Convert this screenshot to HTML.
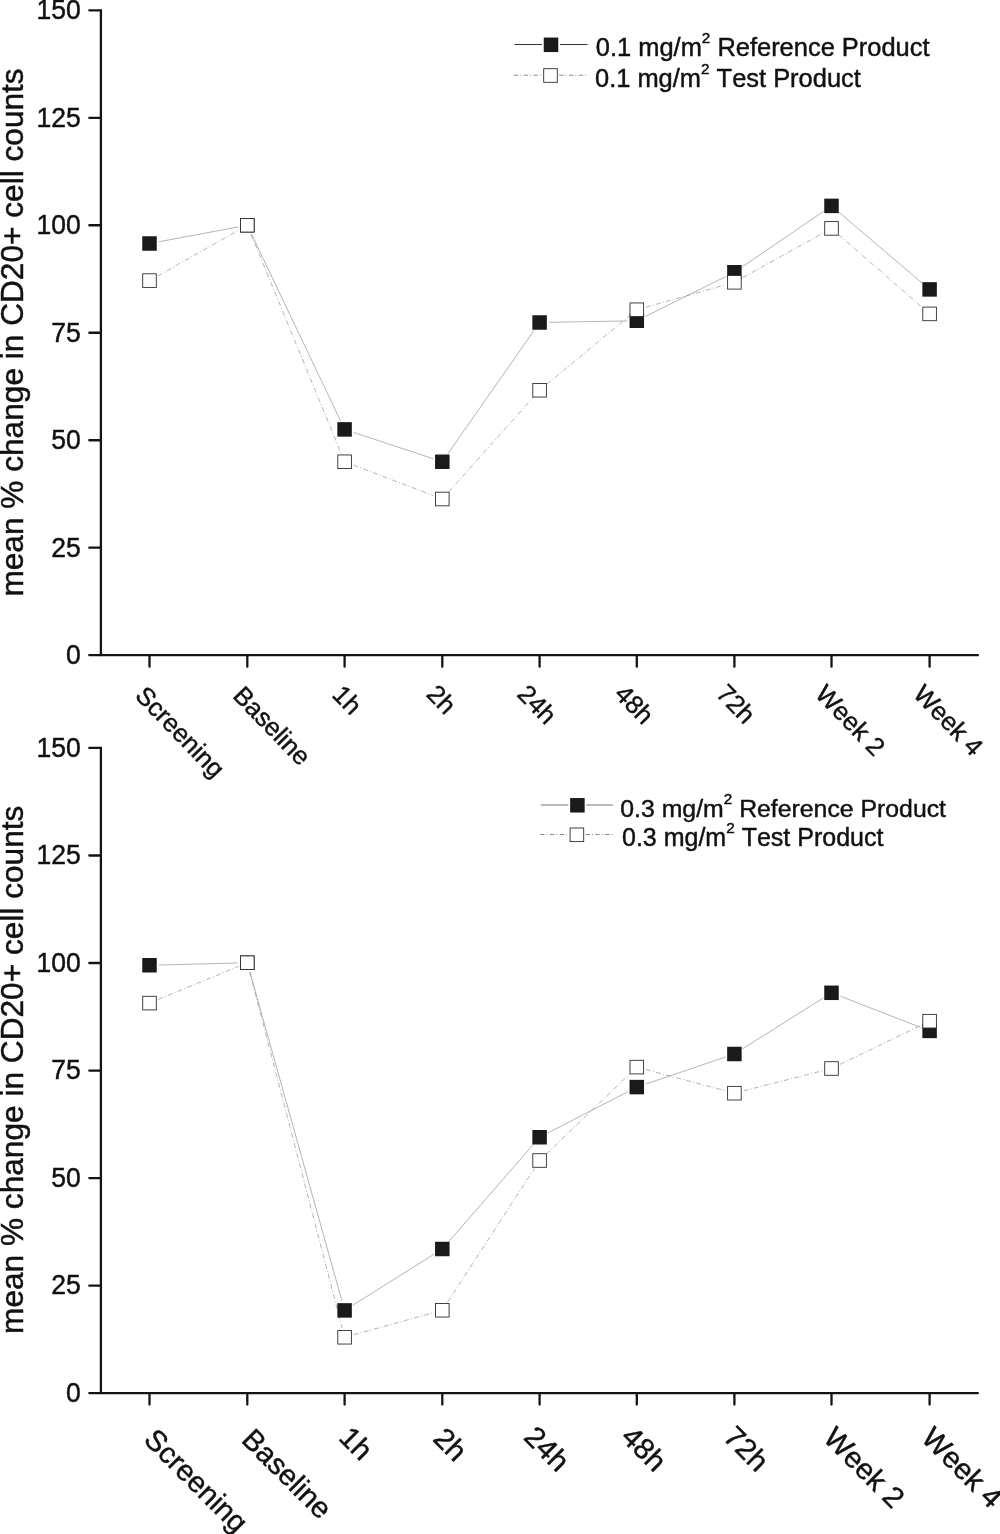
<!DOCTYPE html>
<html><head><meta charset="utf-8"><title>CD20+ cell counts</title>
<style>
html,body{margin:0;padding:0;background:#fff;}
body{width:1000px;height:1534px;overflow:hidden;}
svg{display:block;font-family:"Liberation Sans",Arial,sans-serif;}
text{stroke:#111;stroke-width:0.45px;font-kerning:none;}
</style></head><body>
<svg width="1000" height="1534" viewBox="0 0 1000 1534">
<rect width="1000" height="1534" fill="#fff"/>
<g stroke="#141414" stroke-width="2.3" fill="none" stroke-linecap="round">
<path d="M100.9 10.30 V655.20"/>
<path d="M89.3 655.20 H977.9"/>
<path d="M89.3 10.30 H100.9"/>
<path d="M89.3 117.78 H100.9"/>
<path d="M89.3 225.27 H100.9"/>
<path d="M89.3 332.75 H100.9"/>
<path d="M89.3 440.23 H100.9"/>
<path d="M89.3 547.72 H100.9"/>
<path d="M149.50 655.20 V666.70"/>
<path d="M247.30 655.20 V666.70"/>
<path d="M344.60 655.20 V666.70"/>
<path d="M442.30 655.20 V666.70"/>
<path d="M539.60 655.20 V666.70"/>
<path d="M636.80 655.20 V666.70"/>
<path d="M734.40 655.20 V666.70"/>
<path d="M831.50 655.20 V666.70"/>
<path d="M929.60 655.20 V666.70"/>
</g>
<g font-size="26.5" text-anchor="end" fill="#111">
<text transform="translate(80.8 19.20) scale(1 1.05)">150</text>
<text transform="translate(80.8 126.68) scale(1 1.05)">125</text>
<text transform="translate(80.8 234.17) scale(1 1.05)">100</text>
<text transform="translate(80.8 341.65) scale(1 1.05)">75</text>
<text transform="translate(80.8 449.13) scale(1 1.05)">50</text>
<text transform="translate(80.8 556.62) scale(1 1.05)">25</text>
<text transform="translate(80.8 664.10) scale(1 1.05)">0</text>
</g>
<g font-size="25.5" fill="#111">
<text transform="translate(134.00 696.70) rotate(46)">Screening</text>
<text transform="translate(231.80 696.70) rotate(46)">Baseline</text>
<text transform="translate(331.10 695.70) rotate(46)">1h</text>
<text transform="translate(425.30 695.20) rotate(46)">2h</text>
<text transform="translate(516.10 695.20) rotate(46)">24h</text>
<text transform="translate(613.30 695.20) rotate(46)">48h</text>
<text transform="translate(714.90 694.70) rotate(46)">72h</text>
<text transform="translate(814.00 695.20) rotate(46)">Week 2</text>
<text transform="translate(912.10 695.20) rotate(46)">Week 4</text>
</g>
<g stroke="#949494" stroke-width="0.7" fill="none">
<line x1="158.84" y1="241.76" x2="237.96" y2="226.99"/>
<line x1="251.39" y1="233.83" x2="340.51" y2="420.82"/>
<line x1="353.62" y1="432.39" x2="433.28" y2="458.76"/>
<line x1="447.74" y1="453.96" x2="534.16" y2="330.29"/>
<line x1="549.10" y1="322.33" x2="627.30" y2="320.92"/>
<line x1="645.31" y1="316.52" x2="725.89" y2="276.48"/>
<line x1="742.24" y1="266.89" x2="823.66" y2="211.26"/>
<line x1="838.73" y1="212.06" x2="922.37" y2="283.24"/>
<line x1="157.77" y1="275.92" x2="239.03" y2="229.93" stroke-dasharray="5 2.2 1 2.2"/>
<line x1="250.91" y1="234.04" x2="340.99" y2="452.96" stroke-dasharray="5 2.2 1 2.2"/>
<line x1="353.48" y1="465.13" x2="433.42" y2="495.62" stroke-dasharray="5 2.2 1 2.2"/>
<line x1="448.63" y1="491.92" x2="533.27" y2="397.33" stroke-dasharray="5 2.2 1 2.2"/>
<line x1="546.92" y1="384.19" x2="629.48" y2="315.81" stroke-dasharray="5 2.2 1 2.2"/>
<line x1="645.95" y1="307.18" x2="725.25" y2="284.87" stroke-dasharray="5 2.2 1 2.2"/>
<line x1="742.71" y1="277.69" x2="823.19" y2="233.01" stroke-dasharray="5 2.2 1 2.2"/>
<line x1="838.66" y1="234.64" x2="922.44" y2="307.66" stroke-dasharray="5 2.2 1 2.2"/>
</g>
<rect x="142.25" y="236.25" width="14.5" height="14.5" fill="#1a1a1a"/>
<rect x="240.05" y="218.00" width="14.5" height="14.5" fill="#1a1a1a"/>
<rect x="337.35" y="422.15" width="14.5" height="14.5" fill="#1a1a1a"/>
<rect x="435.05" y="454.50" width="14.5" height="14.5" fill="#1a1a1a"/>
<rect x="532.35" y="315.25" width="14.5" height="14.5" fill="#1a1a1a"/>
<rect x="629.55" y="313.50" width="14.5" height="14.5" fill="#1a1a1a"/>
<rect x="727.15" y="265.00" width="14.5" height="14.5" fill="#1a1a1a"/>
<rect x="824.25" y="198.65" width="14.5" height="14.5" fill="#1a1a1a"/>
<rect x="922.35" y="282.15" width="14.5" height="14.5" fill="#1a1a1a"/>
<rect x="142.70" y="273.80" width="13.6" height="13.6" fill="#fff" stroke="#2e2e2e" stroke-width="0.9"/>
<rect x="240.50" y="218.45" width="13.6" height="13.6" fill="#fff" stroke="#2e2e2e" stroke-width="0.9"/>
<rect x="337.80" y="454.95" width="13.6" height="13.6" fill="#fff" stroke="#2e2e2e" stroke-width="0.9"/>
<rect x="435.50" y="492.20" width="13.6" height="13.6" fill="#fff" stroke="#2e2e2e" stroke-width="0.9"/>
<rect x="532.80" y="383.45" width="13.6" height="13.6" fill="#fff" stroke="#2e2e2e" stroke-width="0.9"/>
<rect x="630.00" y="302.95" width="13.6" height="13.6" fill="#fff" stroke="#2e2e2e" stroke-width="0.9"/>
<rect x="727.60" y="275.50" width="13.6" height="13.6" fill="#fff" stroke="#2e2e2e" stroke-width="0.9"/>
<rect x="824.70" y="221.60" width="13.6" height="13.6" fill="#fff" stroke="#2e2e2e" stroke-width="0.9"/>
<rect x="922.80" y="307.10" width="13.6" height="13.6" fill="#fff" stroke="#2e2e2e" stroke-width="0.9"/>
<g stroke-width="1" fill="none">
<path stroke="#333" d="M514.5 44.5 H542"/><path stroke="#333" d="M560 44.5 H587.5"/>
<path stroke="#8a8a8a" d="M513.8 75.2 H541" stroke-dasharray="4.4 2 0.9 2.5"/><path stroke="#8a8a8a" d="M559.2 75.2 H587.5" stroke-dasharray="4.4 2 0.9 2.5"/>
</g>
<rect x="543.75" y="37.55" width="14.5" height="14.5" fill="#1a1a1a"/>
<rect x="543.70" y="68.70" width="13.6" height="13.6" fill="#fff" stroke="#2e2e2e" stroke-width="0.9"/>
<g font-size="25.45" fill="#111">
<text font-size="25.45" x="595.8" y="55.5">0.1 mg/m<tspan font-size="15.3" dy="-12.9">2</tspan><tspan dy="12.9"> Reference Product</tspan></text>
<text x="595.0" y="86.5">0.1 mg/m<tspan font-size="15.3" dy="-12.9">2</tspan><tspan dy="12.9"> Test Product</tspan></text>
</g>
<g stroke="#141414" stroke-width="2.3" fill="none" stroke-linecap="round">
<path d="M100.9 747.95 V1393.10"/>
<path d="M89.3 1393.10 H977.9"/>
<path d="M89.3 747.95 H100.9"/>
<path d="M89.3 855.48 H100.9"/>
<path d="M89.3 963.00 H100.9"/>
<path d="M89.3 1070.53 H100.9"/>
<path d="M89.3 1178.05 H100.9"/>
<path d="M89.3 1285.57 H100.9"/>
<path d="M149.50 1393.10 V1404.60"/>
<path d="M247.30 1393.10 V1404.60"/>
<path d="M344.60 1393.10 V1404.60"/>
<path d="M442.30 1393.10 V1404.60"/>
<path d="M539.60 1393.10 V1404.60"/>
<path d="M636.80 1393.10 V1404.60"/>
<path d="M734.40 1393.10 V1404.60"/>
<path d="M831.50 1393.10 V1404.60"/>
<path d="M929.60 1393.10 V1404.60"/>
</g>
<g font-size="26.5" text-anchor="end" fill="#111">
<text transform="translate(80.8 756.55) scale(1 1.05)">150</text>
<text transform="translate(80.8 864.08) scale(1 1.05)">125</text>
<text transform="translate(80.8 971.60) scale(1 1.05)">100</text>
<text transform="translate(80.8 1079.12) scale(1 1.05)">75</text>
<text transform="translate(80.8 1186.65) scale(1 1.05)">50</text>
<text transform="translate(80.8 1294.17) scale(1 1.05)">25</text>
<text transform="translate(80.8 1401.70) scale(1 1.05)">0</text>
</g>
<g font-size="29.3" fill="#111">
<text transform="translate(142.50 1441.10) rotate(45)">Screening</text>
<text transform="translate(240.30 1441.10) rotate(45)">Baseline</text>
<text transform="translate(337.60 1439.10) rotate(45)">1h</text>
<text transform="translate(431.80 1440.10) rotate(45)">2h</text>
<text transform="translate(522.60 1438.60) rotate(45)">24h</text>
<text transform="translate(619.80 1438.60) rotate(45)">48h</text>
<text transform="translate(721.90 1438.60) rotate(45)">72h</text>
<text transform="translate(822.00 1439.60) rotate(45)">Week 2</text>
<text transform="translate(920.10 1439.60) rotate(45)">Week 4</text>
</g>
<g stroke="#949494" stroke-width="0.7" fill="none">
<line x1="159.00" y1="965.01" x2="237.80" y2="962.99"/>
<line x1="249.86" y1="971.90" x2="342.04" y2="1301.25"/>
<line x1="352.64" y1="1305.35" x2="434.26" y2="1254.05"/>
<line x1="448.54" y1="1241.84" x2="533.36" y2="1144.41"/>
<line x1="548.04" y1="1132.89" x2="628.36" y2="1091.46"/>
<line x1="645.80" y1="1084.05" x2="725.40" y2="1057.05"/>
<line x1="742.44" y1="1048.93" x2="823.46" y2="997.87"/>
<line x1="840.36" y1="996.24" x2="920.74" y2="1027.46"/>
<line x1="158.28" y1="999.48" x2="238.52" y2="966.37" stroke-dasharray="5 2.2 1 2.2"/>
<line x1="249.69" y1="971.94" x2="342.21" y2="1328.06" stroke-dasharray="5 2.2 1 2.2"/>
<line x1="353.76" y1="1334.72" x2="433.14" y2="1312.78" stroke-dasharray="5 2.2 1 2.2"/>
<line x1="447.48" y1="1302.28" x2="534.42" y2="1168.47" stroke-dasharray="5 2.2 1 2.2"/>
<line x1="546.45" y1="1153.92" x2="629.95" y2="1073.68" stroke-dasharray="5 2.2 1 2.2"/>
<line x1="645.98" y1="1069.55" x2="725.22" y2="1090.75" stroke-dasharray="5 2.2 1 2.2"/>
<line x1="743.61" y1="1090.86" x2="822.29" y2="1070.84" stroke-dasharray="5 2.2 1 2.2"/>
<line x1="840.06" y1="1064.37" x2="921.04" y2="1025.33" stroke-dasharray="5 2.2 1 2.2"/>
</g>
<rect x="142.25" y="958.00" width="14.5" height="14.5" fill="#1a1a1a"/>
<rect x="240.05" y="955.50" width="14.5" height="14.5" fill="#1a1a1a"/>
<rect x="337.35" y="1303.15" width="14.5" height="14.5" fill="#1a1a1a"/>
<rect x="435.05" y="1241.75" width="14.5" height="14.5" fill="#1a1a1a"/>
<rect x="532.35" y="1130.00" width="14.5" height="14.5" fill="#1a1a1a"/>
<rect x="629.55" y="1079.85" width="14.5" height="14.5" fill="#1a1a1a"/>
<rect x="727.15" y="1046.75" width="14.5" height="14.5" fill="#1a1a1a"/>
<rect x="824.25" y="985.55" width="14.5" height="14.5" fill="#1a1a1a"/>
<rect x="922.35" y="1023.65" width="14.5" height="14.5" fill="#1a1a1a"/>
<rect x="142.70" y="996.30" width="13.6" height="13.6" fill="#fff" stroke="#2e2e2e" stroke-width="0.9"/>
<rect x="240.50" y="955.95" width="13.6" height="13.6" fill="#fff" stroke="#2e2e2e" stroke-width="0.9"/>
<rect x="337.80" y="1330.45" width="13.6" height="13.6" fill="#fff" stroke="#2e2e2e" stroke-width="0.9"/>
<rect x="435.50" y="1303.45" width="13.6" height="13.6" fill="#fff" stroke="#2e2e2e" stroke-width="0.9"/>
<rect x="532.80" y="1153.70" width="13.6" height="13.6" fill="#fff" stroke="#2e2e2e" stroke-width="0.9"/>
<rect x="630.00" y="1060.30" width="13.6" height="13.6" fill="#fff" stroke="#2e2e2e" stroke-width="0.9"/>
<rect x="727.60" y="1086.40" width="13.6" height="13.6" fill="#fff" stroke="#2e2e2e" stroke-width="0.9"/>
<rect x="824.70" y="1061.70" width="13.6" height="13.6" fill="#fff" stroke="#2e2e2e" stroke-width="0.9"/>
<rect x="922.80" y="1014.40" width="13.6" height="13.6" fill="#fff" stroke="#2e2e2e" stroke-width="0.9"/>
<g stroke-width="1" fill="none">
<path stroke="#777" d="M540.75 805 H568.4"/><path stroke="#777" d="M586.4 805 H613"/>
<path stroke="#8a8a8a" d="M540.05 834.5 H567.4" stroke-dasharray="4.4 2 0.9 2.5"/><path stroke="#8a8a8a" d="M585.6 834.5 H613" stroke-dasharray="4.4 2 0.9 2.5"/>
</g>
<rect x="570.15" y="798.05" width="14.5" height="14.5" fill="#1a1a1a"/>
<rect x="570.10" y="828.00" width="13.6" height="13.6" fill="#fff" stroke="#2e2e2e" stroke-width="0.9"/>
<g font-size="25.0" fill="#111">
<text font-size="24.82" x="620.3" y="816.5">0.3 mg/m<tspan font-size="15.3" dy="-12.5">2</tspan><tspan dy="12.5"> Reference Product</tspan></text>
<text x="622" y="845.5">0.3 mg/m<tspan font-size="15.3" dy="-12.5">2</tspan><tspan dy="12.5"> Test Product</tspan></text>
</g>
<text transform="translate(23.0 332.45) rotate(-90)" font-size="31.64" text-anchor="middle" fill="#111">mean % change in CD20+ cell counts</text>
<text transform="translate(23.0 1069.8) rotate(-90)" font-size="31.64" text-anchor="middle" fill="#111">mean % change in CD20+ cell counts</text>
</svg>
</body></html>
